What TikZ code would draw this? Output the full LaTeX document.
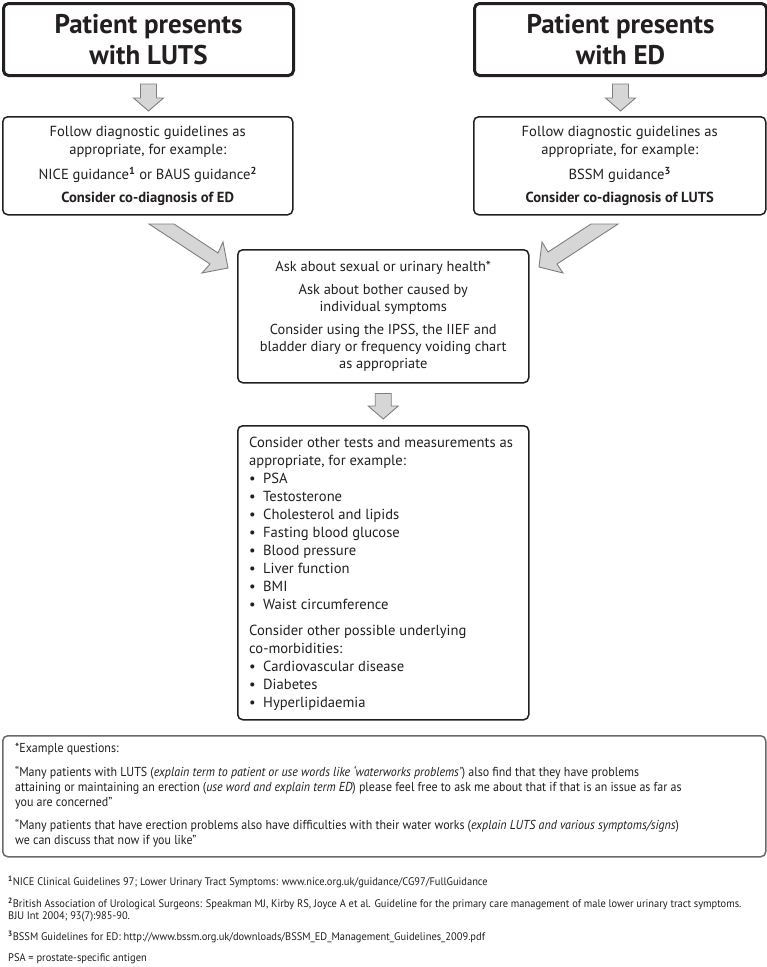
\documentclass[tikz,border=0pt]{standalone}
\usepackage{fontspec}
\setmainfont{PT Sans}
\newfontfamily\condfont[FakeStretch=0.92]{PT Sans}
\newfontfamily\notefont[FakeStretch=0.95]{PT Sans}
\usetikzlibrary{calc}
\definecolor{ink}{HTML}{231F20}
\definecolor{arrowfill}{HTML}{D6D6D6}
\definecolor{arrowline}{HTML}{7F7F7F}
\definecolor{framegray}{HTML}{6A6A6A}
\tikzset{
  titlebox/.style={draw=ink, line width=3pt, rounded corners=5pt, anchor=north west, inner sep=0pt,
    minimum width=290pt, minimum height=72pt, align=center, text=ink,
    font=\fontsize{27}{31}\selectfont\bfseries},
  guidebox/.style={draw=ink, line width=1.5pt, rounded corners=5pt, anchor=north west, inner sep=0pt,
    minimum width=290pt, minimum height=98pt, align=center, text=ink,
    font=\fontsize{14.6}{18}\selectfont},
  blockarrow/.style={fill=arrowfill, draw=arrowline, line width=0.9pt, line join=miter},
  plaintext/.style={anchor=north west, inner sep=0pt, align=left, text=ink}
}
\newcommand\blockdown[4]{%
  \draw[blockarrow] let \p1=(#1.south), \p2=(#2.north) in
   (\x1-8pt,\y1-#3) -- (\x1+8pt,\y1-#3) -- (\x1+8pt,\y2+#4+13pt) -- (\x1+15pt,\y2+#4+13pt)
   -- (\x1,\y2+#4) -- (\x1-15pt,\y2+#4+13pt) -- (\x1-8pt,\y2+#4+13pt) -- cycle;}
\newcommand\bul{\makebox[14pt][l]{\textbullet}}
\begin{document}
\begin{tikzpicture}[x=1pt,y=-1pt]
\useasboundingbox[fill=white] (0,0) rectangle (767,967);

% title boxes
\node[titlebox] (luts) at (2,2) {Patient presents\\with LUTS};
\node[titlebox, minimum width=292pt] (ed) at (473,2) {Patient presents\\with ED};

% guideline boxes
\node[guidebox] (lutsg) at (2,116) {Follow diagnostic guidelines as\\appropriate, for example:\\[7pt]
  NICE guidance\textsuperscript{\bfseries 1} or BAUS guidance\textsuperscript{\bfseries 2}\\[5pt]
  \textbf{Consider co-diagnosis of ED}};
\node[guidebox, minimum width=292pt] (edg) at (473,116) {Follow diagnostic guidelines as\\appropriate, for example:\\[7pt]
  BSSM guidance\textsuperscript{\bfseries 3}\\[5pt]
  \textbf{Consider co-diagnosis of LUTS}};

% ask box
\node[guidebox, minimum width=291pt, minimum height=133pt, font=\fontsize{14.4}{17}\selectfont] (ask) at (237,249)
  {Ask about sexual or urinary health*\\[6pt]
   Ask about bother caused by\\individual symptoms\\[6pt]
   Consider using the IPSS, the IIEF and\\bladder diary or frequency voiding chart\\as appropriate};

% tests box
\node[guidebox, minimum width=291pt, minimum height=294pt] (tests) at (237,425) {};
\node[plaintext, font=\fontsize{14.6}{18}\selectfont] (teststext) at (249,437)
  {Consider other tests and measurements as\\appropriate, for example:\\
   \bul PSA\\
   \bul Testosterone\\
   \bul Cholesterol and lipids\\
   \bul Fasting blood glucose\\
   \bul Blood pressure\\
   \bul Liver function\\
   \bul BMI\\
   \bul Waist circumference\\[8pt]
   Consider other possible underlying\\co-morbidities:\\
   \bul Cardiovascular disease\\
   \bul Diabetes\\
   \bul Hyperlipidaemia};

% example questions box
\node[draw=framegray, line width=1.5pt, rounded corners=5pt, anchor=north west, inner sep=0pt,
  minimum width=763pt, minimum height=121pt] (examples) at (2,735) {};
\node[plaintext, font=\condfont\fontsize{13}{15}\selectfont] (extext) at (15,743)
  {*Example questions:\\[9pt]
   “Many patients with LUTS (\textit{explain term to patient or use words like ‘waterworks problems’}) also find that they have problems\\
   attaining or maintaining an erection (\textit{use word and explain term ED}) please feel free to ask me about that if that is an issue as far as\\
   you are concerned”\\[8pt]
   “Many patients that have erection problems also have difficulties with their water works (\textit{explain LUTS and various symptoms/signs})\\
   we can discuss that now if you like”};

% footnotes
\node[plaintext, font=\notefont\fontsize{11}{12.5}\selectfont] (notes) at (8,876)
  {\textsuperscript{\bfseries 1}NICE Clinical Guidelines 97; Lower Urinary Tract Symptoms: www.nice.org.uk/guidance/CG97/FullGuidance\\[9pt]
   \textsuperscript{\bfseries 2}British Association of Urological Surgeons: Speakman MJ, Kirby RS, Joyce A et al. Guideline for the primary care management of male lower urinary tract symptoms.\\
   BJU Int 2004; 93(7):985-90.\\[8.5pt]
   \textsuperscript{\bfseries 3}BSSM Guidelines for ED: http://www.bssm.org.uk/downloads/BSSM\_ED\_Management\_Guidelines\_2009.pdf\\[8.5pt]
   PSA = prostate-specific antigen};

% arrows
\blockdown{luts}{lutsg}{7pt}{5pt}
\blockdown{ed}{edg}{7pt}{5pt}
\blockdown{ask}{tests}{10pt}{6pt}

\draw[blockarrow] (149,224) -- (174,224) -- (218,253) -- (223,242) -- (228,268) -- (202,273) -- (210,264) -- cycle;
\draw[blockarrow] (618,224) -- (591,224) -- (548,252) -- (542,242) -- (539,267) -- (563,273) -- (557,264) -- cycle;
\end{tikzpicture}
\end{document}
